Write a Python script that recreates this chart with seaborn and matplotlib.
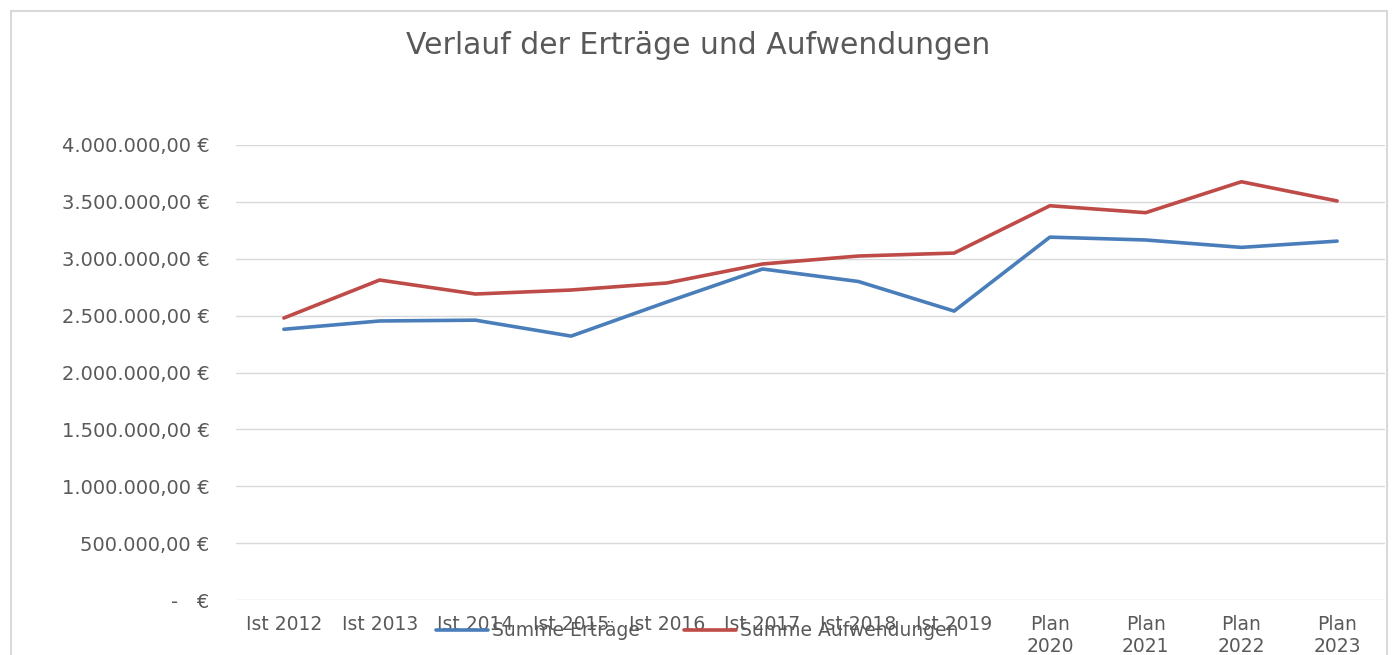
import numpy as np
import pandas as pd
import matplotlib
matplotlib.use("Agg")
import matplotlib.pyplot as plt
import seaborn as sns
from matplotlib.ticker import FuncFormatter
from matplotlib.patches import Rectangle

# ----------------------------------------
# Data
# ----------------------------------------

years = ["Ist 2012", "Ist 2013", "Ist 2014", "Ist 2015", "Ist 2016", "Ist 2017",
         "Ist 2018", "Ist 2019", "Plan\n2020", "Plan\n2021", "Plan\n2022", "Plan\n2023"]

ertraege = [2380000, 2453000, 2460000, 2320000, 2620000, 2910000,
            2800000, 2540000, 3190000, 3165000, 3100000, 3155000]

aufwendungen = [2479000, 2813000, 2690000, 2725000, 2787000, 2954000,
                3024000, 3050000, 3466000, 3405000, 3677000, 3508000]

series_names = ["Summe Erträge", "Summe Aufwendungen"]
colors = ["#4A7EBB", "#BE4B48"]

y_ticks = np.arange(0, 4000001, 500000)

df = pd.DataFrame({
    "Jahr": years * 2,
    "Wert": ertraege + aufwendungen,
    "Reihe": [series_names[0]] * len(years) + [series_names[1]] * len(years),
})

# ----------------------------------------
# Plot
# ----------------------------------------

sns.set_style("white")
plt.rcParams["font.family"] = ["DejaVu Sans"]

text_color = "#595959"

fig = plt.figure(figsize=(13.92, 6.55), dpi=100)
ax = fig.add_axes([236 / 1392, 1 - 600 / 655, (1385 - 236) / 1392, 455 / 655])

sns.lineplot(
    data=df, x="Jahr", y="Wert", hue="Reihe",
    palette=colors, linewidth=2.6, sort=False, ax=ax,
)

ax.set_xlim(-0.5, len(years) - 0.5)
ax.set_ylim(0, 4000000)
ax.set_yticks(y_ticks)


def euro(v, pos):
    if v == 0:
        return "-   €"
    return f"{v:,.2f} €".replace(",", "X").replace(".", ",").replace("X", ".")


ax.yaxis.set_major_formatter(FuncFormatter(euro))
ax.grid(axis="y", color="#D9D9D9", linewidth=1)
ax.set_axisbelow(True)
for s in ax.spines.values():
    s.set_visible(False)

ax.tick_params(axis="y", length=0, pad=19, labelsize=14, labelcolor=text_color)
ax.tick_params(axis="x", length=0, pad=11, labelsize=13.5, labelcolor=text_color)
for lbl in ax.get_xticklabels():
    lbl.set_linespacing(1.2)

ax.set_xlabel("")
ax.set_ylabel("")

# legend sits on top of the x tick labels, like in the original
ax.legend_.remove()
handles, labels = ax.get_legend_handles_labels()
fig.legend(
    handles, labels, loc="center", bbox_to_anchor=(697 / 1392, 1 - 631 / 655),
    ncol=2, frameon=False, fontsize=13.5, handlelength=2.8, handletextpad=0.2,
    columnspacing=2.35, labelcolor=text_color,
)

fig.text(698 / 1392, 1 - 45 / 655, "Verlauf der Erträge und Aufwendungen",
         ha="center", va="center", fontsize=21.5, color=text_color)

fig.patches.append(Rectangle((11 / 1392, -0.1), (1387 - 11) / 1392, 1.1 - 11 / 655,
                             transform=fig.transFigure, fill=False,
                             edgecolor="#D9D9D9", linewidth=1.5))

fig.savefig("out.png", dpi=100, facecolor="white")
